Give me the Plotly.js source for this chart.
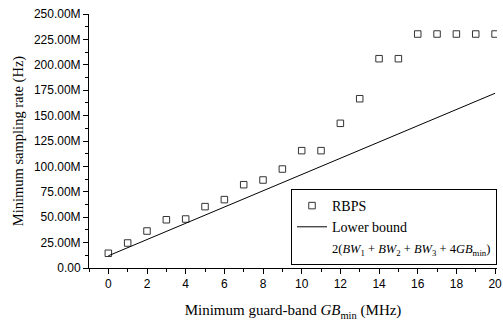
<!DOCTYPE html>
<html>
<head>
<meta charset="utf-8">
<script src="https://cdn.plot.ly/plotly-3.0.1.min.js"></script>
<style>html,body{margin:0;padding:0;background:#fff;}#chart{width:503px;height:321px;}</style>
</head>
<body>
<div id="chart"></div>
<script>
// Minimum guard-band GB_min (MHz)
const gbMin = [0,1,2,3,4,5,6,7,8,9,10,11,12,13,14,15,16,17,18,19,20];
// RBPS minimum sampling rate (MHz)
const rbpsRate = [14.5,24.6,36.4,47.5,48.2,60.4,67.3,82,86.6,97.4,115.5,115.5,142.4,166.6,206,206,230.3,230.3,230.3,230.3,230.3];
// Lower bound 2(BW1+BW2+BW3+4GBmin) (MHz)
const boundX = [0,20];
const boundRate = [12,172];
// y-axis tick labels
const yTickVals = [0,25,50,75,100,125,150,175,200,225,250];
const yTickText = ["0.00","25.00M","50.00M","75.00M","100.00M","125.00M","150.00M","175.00M","200.00M","225.00M","250.00M"];

const serif = "Liberation Serif, Times New Roman, serif";
const sans = "Liberation Sans, Arial, sans-serif";

const traces = [
  {x: gbMin, y: rbpsRate, mode: 'markers', name: 'RBPS',
   marker: {symbol: 'square-open', size: 6.5, color: '#333', line: {width: 1, color: '#333'}}},
  {x: boundX, y: boundRate, mode: 'lines', name: 'Lower bound',
   line: {color: '#000', width: 1}},
  {x: [null], y: [null], mode: 'lines', showlegend: true,
   name: '<span style="font-size:12.5px">2(<i>BW</i><sub>1</sub> + <i>BW</i><sub>2</sub> + <i>BW</i><sub>3</sub> + 4<i>GB</i><sub>min</sub>)</span>',
   line: {color: 'rgba(0,0,0,0)', width: 1}, hoverinfo: 'skip'}
];

const layout = {
  width: 503, height: 321,
  margin: {l: 89, r: 6, t: 14, b: 53},
  paper_bgcolor: '#fff', plot_bgcolor: '#fff',
  showlegend: true,
  legend: {x: 1, xanchor: 'right', y: 0.311, yanchor: 'top',
    bgcolor: '#fff', bordercolor: '#000', borderwidth: 1,
    font: {family: serif, size: 14, color: '#000'}, tracegroupgap: 0},
  xaxis: {range: [-1, 20.1], tickmode: 'linear', tick0: 0, dtick: 2,
    ticks: 'outside', ticklen: 5, tickwidth: 1, tickcolor: '#000',
    minor: {dtick: 1, tick0: 0, ticks: 'outside', ticklen: 3, tickcolor: '#000'},
    showline: true, linecolor: '#000', linewidth: 1, showgrid: false, zeroline: false,
    tickfont: {family: sans, size: 12, color: '#000'},
    title: {text: 'Minimum guard-band <i>GB</i><sub>min</sub> (MHz)', standoff: 14,
      font: {family: serif, size: 15, color: '#000'}}},
  yaxis: {range: [0, 250], tickmode: 'array', tickvals: yTickVals, ticktext: yTickText,
    ticks: 'outside', ticklen: 5, tickwidth: 1, tickcolor: '#000',
    minor: {dtick: 12.5, tick0: 0, ticks: 'outside', ticklen: 3, tickcolor: '#000'},
    showline: true, linecolor: '#000', linewidth: 1, showgrid: false, zeroline: false,
    tickfont: {family: sans, size: 12, color: '#000'},
    title: {text: 'Minimum sampling rate (Hz)', standoff: 6,
      font: {family: serif, size: 14.5, color: '#000'}}}
};

Plotly.newPlot('chart', traces, layout, {displayModeBar: false, staticPlot: true});
</script>
</body>
</html>
